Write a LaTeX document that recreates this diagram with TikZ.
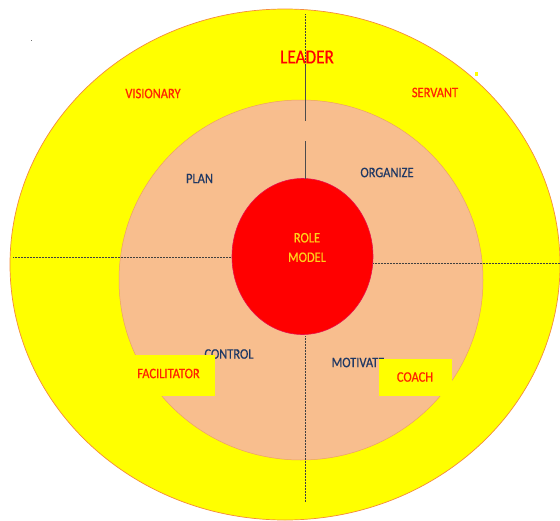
\documentclass[tikz,border=0pt]{standalone}
\usepackage{fontspec}
\setmainfont{Carlito}
\newfontfamily\narrowfont[FakeStretch=0.86,FakeBold=0.6]{Carlito}
\usetikzlibrary{shapes.geometric}
\definecolor{ringyellow}{HTML}{FFFF00}
\definecolor{ringedge}{HTML}{F58A3C}
\definecolor{peach}{HTML}{F8BE8E}
\definecolor{peachedge}{HTML}{EE9F66}
\definecolor{corered}{HTML}{FF0000}
\definecolor{coreedge}{HTML}{E8104A}
\definecolor{navy}{HTML}{1F3864}
\definecolor{labred}{HTML}{FF2200}
\definecolor{gold}{HTML}{FFD21A}
\tikzset{
  outerlab/.style={text=labred, font=\narrowfont\fontsize{14.5}{16}\selectfont, inner sep=0pt},
  innerlab/.style={text=navy, font=\narrowfont\fontsize{14.5}{16}\selectfont, inner sep=0pt},
  tagbox/.style={fill=ringyellow, draw=none, inner sep=0pt},
  axisdot/.style={draw=black!75, line width=0.6pt, dash pattern=on 0.8pt off 0.7pt},
  axissolid/.style={draw=black!70, line width=0.6pt}
}
\begin{document}
\begin{tikzpicture}[x=1pt,y=-1pt]
\useasboundingbox (0,0) rectangle (560,520);
% outer ring
\fill[ringyellow, draw=ringedge, line width=0.7pt] (285,264.5) ellipse [x radius=275, y radius=255.5];
% middle disc
\fill[peach, draw=peachedge, line width=0.5pt] (301,280) ellipse [x radius=182, y radius=180];
% core
\node[ellipse, fill=corered, draw=coreedge, line width=0.6pt, minimum width=141pt, minimum height=156pt, inner sep=0pt] (rm) at (302.5,256.5) {};
% axis coordinates
\coordinate (t0) at (305,14);
\coordinate (t1) at (305,66);
\coordinate (t2) at (305,121);
\coordinate (t3) at (305,141);
\coordinate (t4) at (305,179);
\coordinate (b0) at (305,336);
\coordinate (b1) at (305,502);
\coordinate (l0) at (13,257);
\coordinate (l1) at (232,257);
\coordinate (r0) at (373,263);
\coordinate (r1) at (560,263);
\draw[axisdot] (t0) -- (t1);
\draw[axissolid] (t1) -- (t2);
\draw[axissolid] (t3) -- (t4);
\draw[axisdot] (b0) -- (b1);
\draw[axisdot] (l0) -- (l1);
\draw[axisdot] (r0) -- (r1);
% artifacts
\fill[black!55] (30.5,39.5) rectangle (32,41);
\fill[ringyellow] (474.5,72) rectangle (477.5,75.5);
% labels
\node[text=corered, font=\narrowfont\fontsize{20}{22}\selectfont, inner sep=0pt] (leader) at (307,57) {LEADER};
\node[outerlab] (vis) at (153,93.5) {VISIONARY};
\node[outerlab] (serv) at (435,92.5) {SERVANT};
\node[innerlab] (plan) at (199.5,178.5) {PLAN};
\node[innerlab] (org) at (387,172.5) {ORGANIZE};
\node[text=gold, font=\narrowfont\fontsize{14.5}{19.5}\selectfont, align=center, inner sep=0pt] (rmtext) at (307,247.5) {ROLE\\MODEL};
\node[innerlab] (ctrl) at (229,354) {CONTROL};
\node[innerlab] (mot) at (358,362.5) {MOTIVATE};
% tag boxes
\node[tagbox, minimum width=82pt, minimum height=41pt] (facbox) at (174,375.5) {};
\node[outerlab] (fac) at (168.5,373.5) {FACILITATOR};
\node[tagbox, minimum width=73pt, minimum height=37pt] (coachbox) at (415.5,377.5) {};
\node[outerlab] (coach) at (415,377) {COACH};
\end{tikzpicture}
\end{document}
